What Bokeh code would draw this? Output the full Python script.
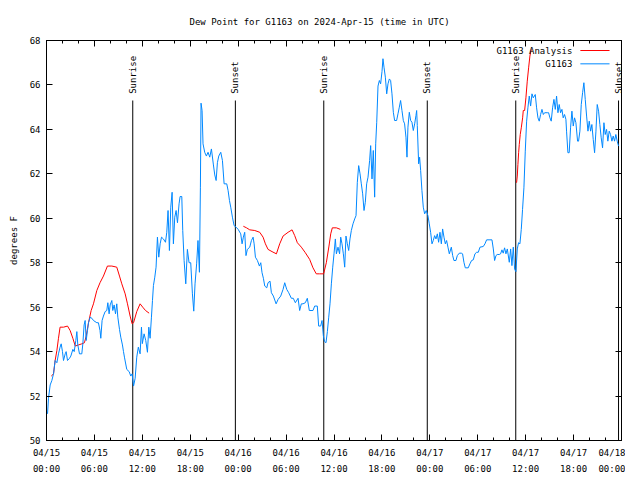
import math
from bokeh.plotting import figure
from bokeh.models import FixedTicker, LinearAxis, Range1d
from bokeh.core.properties import value
from bokeh.embed import file_html
from bokeh.resources import INLINE

# ---------------- data (hours since 2024-04-15 00:00 UTC) ----------------
OBS_HOURS = [
    0.13, 0.25, 0.46, 0.67, 0.88, 1.08, 1.3, 1.5, 1.7, 1.84, 2.0, 2.13, 2.34, 2.46, 2.63, 2.88,
    3.05, 3.3, 3.47, 3.67, 3.8, 3.92, 4.13, 4.42, 4.55, 4.71, 4.84, 4.97, 5.13, 5.26, 5.47, 5.68,
    5.88, 6.3, 6.5, 6.7, 6.8, 6.96, 7.13, 7.34, 7.55, 7.68, 7.84, 7.97, 8.18, 8.3, 8.47, 8.64,
    8.8, 8.93, 9.14, 9.3, 9.51, 9.64, 9.76, 10.05, 10.35, 10.55, 10.72, 10.9, 11.1, 11.3, 11.5,
    11.72, 11.89, 12.0, 12.22, 12.43, 12.64, 12.81, 12.97, 13.14, 13.27, 13.39, 13.56, 13.72,
    13.89, 14.06, 14.23, 14.4, 14.64, 14.9, 15.06, 15.22, 15.39, 15.56, 15.73, 15.89, 16.06,
    16.23, 16.4, 16.6, 16.73, 16.94, 17.06, 17.23, 17.44, 17.64, 17.85, 18.06, 18.27, 18.44,
    18.6, 18.8, 18.97, 19.15, 19.27, 19.35, 19.48, 19.6, 19.81, 20.02, 20.23, 20.44, 20.65,
    20.9, 21.07, 21.24, 21.4, 21.57, 21.82, 22.03, 22.24, 22.57, 22.74, 22.91, 23.07, 23.28,
    23.49, 23.74, 24.0, 24.32, 24.49, 24.65, 24.82, 24.98, 25.15, 25.45, 25.66, 25.87, 26.0,
    26.16, 26.41, 26.66, 26.83, 26.99, 27.16, 27.33, 27.58, 27.74, 27.99, 28.16, 28.41, 28.75,
    29.0, 29.33, 29.62, 29.83, 30.08, 30.33, 30.66, 30.9, 31.16, 31.5, 31.7, 31.91, 32.12,
    32.41, 32.66, 32.91, 33.37, 33.58, 33.91, 34.08, 34.33, 34.5, 34.67, 34.83, 35.0, 35.17,
    35.34, 35.5, 35.67, 35.84, 36.0, 36.17, 36.3, 36.5, 36.7, 36.84, 37.0, 37.17, 37.34, 37.5,
    37.67, 37.84, 38.0, 38.17, 38.38, 38.59, 38.76, 38.92, 39.09, 39.26, 39.42, 39.59, 39.76,
    39.92, 40.09, 40.26, 40.46, 40.59, 40.76, 40.92, 41.09, 41.22, 41.35, 41.51, 41.68, 41.84,
    42.01, 42.13, 42.26, 42.43, 42.6, 42.76, 42.93, 43.09, 43.26, 43.43, 43.59, 43.84, 44.01,
    44.18, 44.34, 44.51, 44.68, 44.84, 45.01, 45.14, 45.26, 45.43, 45.6, 45.76, 45.93, 46.1,
    46.26, 46.35, 46.43, 46.6, 46.72, 46.85, 47.01, 47.18, 47.35, 47.55, 47.76, 47.93, 48.1,
    48.27, 48.43, 48.6, 48.77, 48.94, 49.1, 49.27, 49.44, 49.6, 49.77, 49.94, 50.1, 50.27,
    50.44, 50.69, 50.86, 51.02, 51.27, 51.44, 51.69, 51.94, 52.1, 52.27, 52.44, 52.81, 53.02,
    53.23, 53.44, 53.65, 53.86, 54.07, 54.28, 54.69, 54.9, 55.11, 55.53, 55.78, 55.95, 56.11,
    56.28, 56.44, 56.69, 56.86, 57.03, 57.19, 57.36, 57.53, 57.7, 57.95, 58.12, 58.28, 58.45,
    58.62, 58.78, 58.95, 59.11, 59.28, 59.45, 59.61, 59.78, 59.95, 60.12, 60.28, 60.45, 60.62,
    60.79, 60.95, 61.2, 61.37, 61.54, 61.7, 61.87, 62.04, 62.21, 62.37, 62.7, 62.87, 63.04,
    63.2, 63.37, 63.54, 63.71, 63.87, 64.04, 64.2, 64.37, 64.54, 64.7, 64.87, 65.04, 65.12,
    65.29, 65.45, 65.62, 65.79, 65.96, 66.12, 66.29, 66.5, 66.62, 66.79, 66.96, 67.13, 67.29,
    67.46, 67.63, 67.8, 67.96, 68.13, 68.29, 68.46, 68.63, 68.8, 68.96, 69.13, 69.29, 69.46,
    69.63, 69.8, 69.96, 70.13, 70.29, 70.46, 70.63, 70.8, 70.96, 71.13, 71.29, 71.46, 71.63,
]
OBS_DEWPOINT = [
    51.2, 51.9, 52.5, 52.7, 53.0, 53.6, 53.5, 53.9, 54.2, 54.35, 54.0, 53.6, 53.9, 54.0, 53.6, 53.7,
    53.8, 54.1, 54.0, 54.5, 54.9, 54.3, 53.9, 53.9, 54.35, 55.2, 55.4, 54.5, 54.95, 55.3, 55.55, 55.5,
    55.4, 55.3, 55.3, 54.95, 54.6, 55.4, 55.6, 55.8, 55.85, 56.2, 55.7, 56.1, 56.3, 55.85, 56.1, 55.7,
    56.15, 55.55, 55.0, 54.65, 54.3, 54.0, 53.75, 53.2, 53.1, 52.9, 53.0, 52.45, 52.8, 53.75, 54.2,
    53.9, 55.1, 54.36, 54.8, 54.5, 53.97, 55.1, 54.6, 55.55, 56.3, 56.97, 57.35, 57.8,
    59.15, 58.25, 58.85, 59.15, 59.07, 58.92, 59.37, 60.35, 58.55, 60.5, 61.17, 58.85, 60.05,
    60.35, 59.8, 60.65, 60.98, 60.98, 59.45, 58.1, 57.05, 58.6, 58.0, 58.0, 56.6, 55.82,
    57.05, 57.95, 59.0, 57.57, 61.4, 65.18, 64.85, 63.35, 62.97, 62.8, 62.97, 62.75, 63.12,
    62.4, 61.95, 61.7, 62.5, 62.8, 62.97, 62.6, 61.55, 61.55, 61.25, 60.8, 60.5, 60.05,
    59.67, 59.6, 59.5, 59.3, 58.85, 59.15, 59.37, 58.32, 58.6, 58.7, 59.0, 59.15, 58.85,
    58.25, 58.1, 57.85, 58.0, 57.55, 57.3, 56.95, 56.87, 57.1, 57.17, 56.65, 56.5, 56.15,
    56.35, 56.5, 56.8, 57.1, 56.8, 56.65, 56.4, 56.4, 56.2, 56.4, 55.85, 56.15, 56.15,
    56.2, 56.4, 55.85, 55.85, 56.05, 56.05, 55.15, 55.15, 55.4, 54.7, 54.45, 54.4, 54.9,
    55.55, 56.15, 57.05, 57.8, 58.4, 59.07, 58.4, 58.7, 58.4, 59.15, 58.85, 58.4, 57.8, 59.2,
    58.85, 58.55, 59.07, 59.45, 59.75, 59.97, 60.12, 61.62, 62.37, 62.0, 61.55, 61.1, 60.35,
    60.72, 61.55, 61.85, 62.6, 63.27, 61.77, 63.05, 60.95, 63.35, 64.32, 65.95, 66.2, 66.05,
    66.6, 67.18, 66.8, 66.35, 65.6, 66.05, 66.27, 66.2, 65.6, 64.77, 64.4, 64.4, 64.7,
    65.0, 65.3, 64.85, 64.4, 64.25, 63.65, 62.75, 64.1, 64.77, 64.4, 64.32, 63.95, 64.25,
    64.62, 64.85, 64.17, 62.45, 62.75, 62.15, 61.25, 60.5, 60.2, 60.35, 60.12, 59.75, 59.37,
    58.85, 59.0, 59.22, 59.07, 59.3, 58.92, 59.37, 58.85, 59.52, 59.15, 58.85, 59.0, 58.7,
    58.4, 58.7, 58.32, 58.1, 58.1, 58.32, 58.43, 58.43, 58.4, 58.02, 57.77, 57.77, 57.95,
    58.1, 58.13, 58.4, 58.47, 58.47, 58.7, 58.73, 58.85, 59.03, 59.03, 59.03, 58.62, 58.1,
    58.32, 58.37, 58.37, 58.4, 58.58, 58.43, 58.67, 58.4, 58.62, 58.02, 58.62, 57.87, 58.7,
    57.7, 57.6, 58.62, 58.9, 58.85, 59.5, 60.4, 61.37, 63.02, 64.37, 64.97, 65.5, 65.05,
    65.6, 65.42, 65.57, 64.97, 64.52, 64.37, 64.67, 64.9, 64.67, 64.75, 64.75, 64.75, 64.52,
    64.37, 64.97, 65.35, 64.9, 65.5, 64.75, 65.12, 64.75, 64.9, 64.52, 64.67, 64.45, 63.92,
    62.95, 62.95, 64.07, 64.82, 64.15, 64.52, 64.3, 63.47, 63.47, 63.92, 65.12, 65.65, 66.1,
    65.35, 64.6, 63.92, 64.37, 63.92, 64.22, 63.55, 62.95, 63.92, 65.12, 64.82, 64.22, 63.62,
    63.17, 64.3, 63.77, 64.0, 63.47, 63.92, 63.77, 63.47, 63.7, 63.47, 63.77, 63.47, 63.25,
]
NAN = float("nan")
ANALYSIS_HOURS = [
    0.6, 0.88, 1.08, 1.3, 1.5, 1.7, 2.13, 2.63, 2.96, 3.3, 3.6, 4.0, 4.42, 4.75, 4.97, 5.26, 5.59,
    5.88, 6.3, 6.7, 7.13, 7.63, 8.18, 8.8, 9.14, 9.43, 9.85, 10.14, 10.47, 10.72, 10.9, 11.3,
    11.72, 12.05, 12.4, 12.85, NAN,
    24.65, 25.05, 25.45, 26.08, 26.7, 27.12, 27.41, 27.74, 28.24, 28.79, 29.2, 29.62, 30.25,
    30.75, 31.08, 31.41, 31.91, 32.41, 32.95, 33.37, 33.78, 34.2, 34.7, 35.04, 35.37, 35.59,
    35.79, 36.3, 36.8, NAN,
    58.86, 58.95, 59.03, 59.12, 59.2, 59.32, 59.45, 59.62, 59.7, 59.87, 60.03, 60.2, 60.37,
    60.53, 60.7,
]
ANALYSIS_DEWPOINT = [
    52.9, 53.0, 53.6, 54.05, 54.6, 55.1, 55.1, 55.15, 54.95, 54.6, 54.25, 54.3, 54.35, 54.4, 54.7,
    55.3, 55.85, 56.15, 56.75, 57.1, 57.4, 57.85, 57.85, 57.8, 57.4, 57.05, 56.6, 56.15, 55.6,
    55.25, 55.3, 55.8, 56.15, 56.0, 55.85, 55.73, NAN,
    59.64, 59.57, 59.48, 59.45, 59.37, 59.15, 58.85, 58.6, 58.5, 58.4, 58.85, 59.2, 59.37,
    59.48, 59.22, 58.9, 58.7, 58.45, 58.15, 57.77, 57.5, 57.5, 57.5, 58.0, 58.75, 59.3, 59.57,
    59.57, 59.5, NAN,
    61.6, 61.9, 62.42, 62.95, 63.32, 63.77, 64.07, 64.52, 64.85, 64.85, 65.42, 66.17, 66.77,
    67.3, 67.6,
]
SUN_HOURS = [10.8, 23.65, 34.72, 47.68, 58.76, 71.63]
SUN_LABELS = ["Sunrise", "Sunset", "Sunrise", "Sunset", "Sunrise", "Sunset"]
SUN_LINE_TOP = 65.3
SUN_LABEL_Y = 65.6

X_TICKS = [0, 6, 12, 18, 24, 30, 36, 42, 48, 54, 60, 66, 72]
X_DATES = ["04/15", "04/15", "04/15", "04/15", "04/16", "04/16", "04/16", "04/16",
           "04/17", "04/17", "04/17", "04/17", "04/18"]
X_TIMES = ["00:00", "06:00", "12:00", "18:00", "00:00", "06:00", "12:00", "18:00",
           "00:00", "06:00", "12:00", "18:00", "00:00"]
X_MINOR = list(range(0, 73, 2))
Y_TICKS = [50, 52, 54, 56, 58, 60, 62, 64, 66, 68]

TITLE = "Dew Point for G1163 on 2024-Apr-15 (time in UTC)"
LEGEND_LABELS = ["G1163 Analysis", "G1163"]
RED = "#ff0000"
BLUE = "#0088ff"
FONT = "DejaVu Sans Mono"
FS = "9px"

# ---------------- figure ----------------
p = figure(frame_width=575, frame_height=400, output_backend="svg", toolbar_location=None,
           x_range=Range1d(0, 72), y_range=Range1d(50, 68),
           min_border_left=46, min_border_right=4, min_border_top=40, min_border_bottom=30)
p.background_fill_color = "white"
p.border_fill_color = "white"
p.outline_line_color = "black"
p.outline_line_width = 1
p.xgrid.visible = False
p.ygrid.visible = False

p.title.text = TITLE
p.title.align = "left"
p.title.offset = 143
p.title.text_font = FONT
p.title.text_font_size = FS
p.title.text_font_style = "normal"
p.title.text_color = "black"
p.title.standoff = 28

xt = FixedTicker(ticks=X_TICKS, minor_ticks=X_MINOR)
yt = FixedTicker(ticks=Y_TICKS, minor_ticks=[])

xa = p.xaxis[0]
xa.ticker = xt
xa.major_label_overrides = {float(t): f"{d}\n{tm}" for t, d, tm in zip(X_TICKS, X_DATES, X_TIMES)}
ya = p.yaxis[0]
ya.ticker = yt
ya.axis_label = "degrees F"

for ax in (xa, ya):
    ax.major_tick_in = 6
    ax.major_tick_out = 0
    ax.minor_tick_in = 3
    ax.minor_tick_out = 0
    ax.axis_line_color = "black"
    ax.major_tick_line_color = "black"
    ax.minor_tick_line_color = "black"
    ax.major_label_text_font = FONT
    ax.major_label_text_font_size = FS
    ax.major_label_text_color = "black"
    ax.axis_label_text_font = FONT
    ax.axis_label_text_font_size = FS
    ax.axis_label_text_font_style = "normal"
    ax.axis_label_text_color = "black"
xa.major_label_standoff = 7
xa.major_label_text_line_height = 1.6
ya.major_label_standoff = 6
ya.axis_label_standoff = 8

# mirrored ticks on top and right
top = LinearAxis(ticker=FixedTicker(ticks=X_TICKS, minor_ticks=X_MINOR))
top.major_label_overrides = {float(t): "" for t in X_TICKS}
right = LinearAxis(ticker=FixedTicker(ticks=Y_TICKS, minor_ticks=[]))
right.major_label_overrides = {float(t): "" for t in Y_TICKS}
for ax in (top, right):
    ax.major_tick_in = 6
    ax.major_tick_out = 0
    ax.minor_tick_in = 3
    ax.minor_tick_out = 0
    ax.axis_line_color = "black"
    ax.major_label_standoff = 0
    ax.major_label_text_font_size = "0px"
p.add_layout(top, "above")
p.add_layout(right, "right")

# sunrise / sunset markers
p.segment(x0=SUN_HOURS, y0=[p.y_range.start] * len(SUN_HOURS), x1=SUN_HOURS,
          y1=[SUN_LINE_TOP] * len(SUN_HOURS), line_color="black", line_width=1)
p.text(x=SUN_HOURS, y=[SUN_LABEL_Y] * len(SUN_HOURS), text=SUN_LABELS, angle=math.pi / 2,
       text_align="left", text_baseline="middle", text_font=value(FONT),
       text_font_size=FS, text_color="black")

# series
p.line(ANALYSIS_HOURS, ANALYSIS_DEWPOINT, line_color=RED, line_width=1)
p.line(OBS_HOURS, OBS_DEWPOINT, line_color=BLUE, line_width=1)

# gnuplot-style key (label left, sample right)
KEY_TEXT_X = 65.85
KEY_LINE_X0 = 66.85
KEY_LINE_X1 = 70.5
KEY_Y = [67.55, 66.95]
p.text(x=[KEY_TEXT_X] * 2, y=KEY_Y, text=LEGEND_LABELS, text_align="right",
       text_baseline="middle", text_font=value(FONT), text_font_size=FS, text_color="black")
p.segment(x0=[KEY_LINE_X0] * 2, y0=KEY_Y, x1=[KEY_LINE_X1] * 2, y1=KEY_Y,
          line_color=[RED, BLUE], line_width=1)

open("out.html", "w").write(file_html(p, INLINE))
